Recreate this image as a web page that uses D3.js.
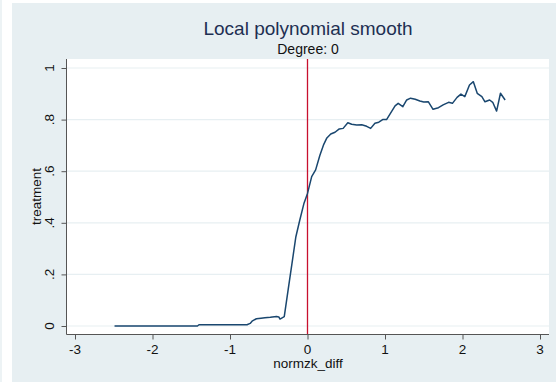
<!DOCTYPE html>
<html>
<head>
<meta charset="utf-8">
<script src="https://cdn.jsdelivr.net/npm/d3@7/dist/d3.min.js"></script>
<style>
  html, body { margin: 0; padding: 0; background: #ffffff; }
  svg { display: block; font-family: "Liberation Sans", Arial, sans-serif; }
</style>
</head>
<body>
<svg id="chart" width="556" height="382"></svg>
<script>
// Smoothed treatment share by normalized score difference
const xValues = [
  -2.49, -1.42, -1.40, -0.78, -0.74, -0.71, -0.66, -0.60, -0.55, -0.48, -0.40, -0.37,
  -0.355, -0.30, -0.25, -0.20, -0.15, -0.10, -0.045, 0.0, 0.054, 0.105, 0.16, 0.21,
  0.25, 0.30, 0.355, 0.41, 0.46, 0.52, 0.57, 0.635, 0.70, 0.764, 0.815, 0.87, 0.92,
  0.97, 1.02, 1.07, 1.13, 1.17, 1.23, 1.28, 1.33, 1.39, 1.45, 1.50, 1.56, 1.62, 1.69,
  1.75, 1.82, 1.87, 1.93, 1.98, 2.03, 2.09, 2.14, 2.19, 2.25, 2.29, 2.35, 2.39, 2.44,
  2.49, 2.55
];
const treatValues = [
  0.0, 0.0, 0.005, 0.005, 0.010, 0.020, 0.028, 0.030, 0.032, 0.034, 0.037, 0.035,
  0.027, 0.036, 0.14, 0.243, 0.346, 0.41, 0.476, 0.514, 0.579, 0.605, 0.662, 0.704,
  0.729, 0.744, 0.751, 0.764, 0.766, 0.788, 0.782, 0.779, 0.780, 0.774, 0.766, 0.786,
  0.790, 0.80, 0.80, 0.824, 0.853, 0.863, 0.85, 0.876, 0.883, 0.879, 0.872, 0.868,
  0.869, 0.84, 0.846, 0.857, 0.867, 0.863, 0.886, 0.899, 0.889, 0.934, 0.947, 0.902,
  0.889, 0.869, 0.876, 0.867, 0.833, 0.902, 0.876
];
const xTicks = [-3, -2, -1, 0, 1, 2, 3];
const yTicks = [0, 0.2, 0.4, 0.6, 0.8, 1];
const yTickLabels = ["0", ".2", ".4", ".6", ".8", "1"];
const cutoff = [0];

const titleText = "Local polynomial smooth";
const subtitleText = "Degree: 0";
const xTitle = "normzk_diff";
const yTitle = "treatment";

const svg = d3.select("#chart");
const W = 556, H = 382;
const plot = { left: 67, right: 549, top: 59, bottom: 334 };
const regionFill = "#e7eff2";

// graph region backgrounds
svg.append("rect").attr("x", 0).attr("y", 0).attr("width", 2).attr("height", H).attr("fill", "#edf3f5");
svg.append("rect").attr("x", 12).attr("y", 3).attr("width", W - 12).attr("height", H - 3).attr("fill", regionFill);
svg.append("rect").attr("x", plot.left).attr("y", plot.top)
  .attr("width", plot.right - plot.left).attr("height", plot.bottom - plot.top).attr("fill", "#ffffff");

const x = d3.scaleLinear().domain([-3, 3]).range([75, 540]);
const y = d3.scaleLinear().domain([0, 1]).range([326, 68]);

// gridlines
svg.append("g").selectAll("line").data(yTicks).join("line")
  .attr("x1", plot.left).attr("x2", plot.right)
  .attr("y1", d => y(d)).attr("y2", d => y(d))
  .attr("stroke", "#e7eff2").attr("stroke-width", 1.2);

// y axis
const yAxis = d3.axisLeft(y).tickValues(yTicks).tickSize(5).tickFormat("");
const gy = svg.append("g").attr("transform", `translate(${plot.left - 0.5},0)`).call(yAxis);
gy.select(".domain").attr("d", `M0,${plot.top}V${plot.bottom + 0.5}`).attr("stroke", "#555");
gy.selectAll(".tick line").attr("stroke", "#555");
svg.append("g").selectAll("text").data(yTicks).join("text")
  .attr("transform", (d) => `translate(54,${y(d)}) rotate(-90)`)
  .attr("text-anchor", "middle")
  .attr("font-size", 13.5).attr("fill", "#111")
  .text((d, i) => yTickLabels[i]);

// x axis
const xAxis = d3.axisBottom(x).tickValues(xTicks).tickSize(5).tickFormat("");
const gx = svg.append("g").attr("transform", `translate(0,${plot.bottom + 0.5})`).call(xAxis);
gx.select(".domain").attr("d", `M${plot.left - 0.5},0H${plot.right}`).attr("stroke", "#555");
gx.selectAll(".tick line").attr("stroke", "#555");
svg.append("g").selectAll("text").data(xTicks).join("text")
  .attr("x", d => x(d)).attr("y", 354)
  .attr("text-anchor", "middle")
  .attr("font-size", 13.5).attr("fill", "#111")
  .text(d => d);

// axis titles
svg.append("text").attr("x", (plot.left + plot.right) / 2).attr("y", 368)
  .attr("text-anchor", "middle").attr("font-size", 13.5).attr("fill", "#111").text(xTitle);
svg.append("text").attr("transform", `translate(41,${(plot.top + plot.bottom) / 2}) rotate(-90)`)
  .attr("text-anchor", "middle").attr("font-size", 13.5).attr("fill", "#111").text(yTitle);

// titles
svg.append("text").attr("x", (plot.left + plot.right) / 2).attr("y", 35)
  .attr("text-anchor", "middle").attr("font-size", 19).attr("fill", "#1e2f52").text(titleText);
svg.append("text").attr("x", (plot.left + plot.right) / 2).attr("y", 54)
  .attr("text-anchor", "middle").attr("font-size", 14).attr("fill", "#111").text(subtitleText);

// cutoff line
svg.append("g").selectAll("line").data(cutoff).join("line")
  .attr("x1", d => x(d)).attr("x2", d => x(d))
  .attr("y1", plot.top).attr("y2", plot.bottom)
  .attr("stroke", "#c8102e").attr("stroke-width", 1.3);

// smooth line
const pts = xValues.map((v, i) => [v, treatValues[i]]);
svg.append("path").datum(pts)
  .attr("fill", "none").attr("stroke", "#1a476f").attr("stroke-width", 1.5)
  .attr("stroke-linejoin", "round")
  .attr("d", d3.line().x(d => x(d[0])).y(d => y(d[1])));
</script>
</body>
</html>
